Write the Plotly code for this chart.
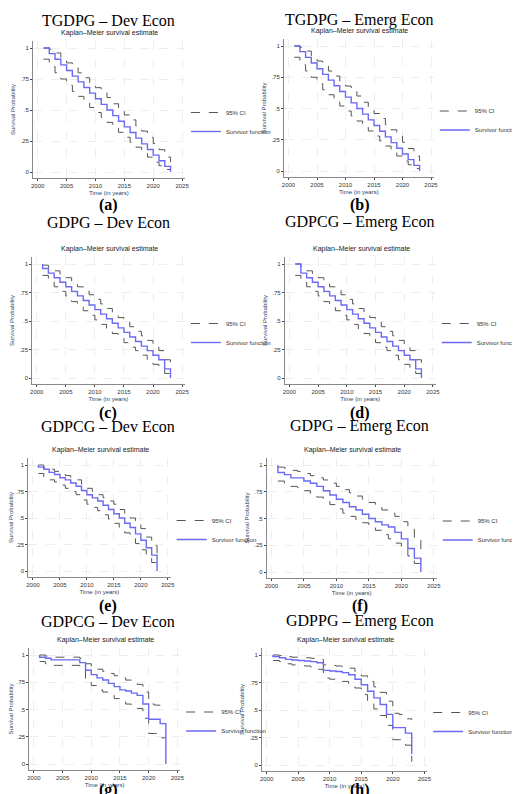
import plotly.graph_objects as go

YEARS = list(range(2001, 2024))
X_TICKS = [2000, 2005, 2010, 2015, 2020, 2025]
Y_TICKS = [0, 0.25, 0.5, 0.75, 1]
Y_TICK_LABELS = ["0", ".25", ".5", ".75", "1"]

TITLES = ["TGDPG – Dev Econ", "TGDPG – Emerg Econ", "GDPG – Dev Econ", "GDPCG – Emerg Econ",
          "GDPCG – Dev Econ", "GDPG – Emerg Econ", "GDPCG – Dev Econ", "GDPPG – Emerg Econ"]
LABELS = ["(a)", "(b)", "(c)", "(d)", "(e)", "(f)", "(g)", "(h)"]

S_a = [1, .955, .909, .864, .818, .773, .727, .682, .636, .591, .545, .5, .455, .409, .364, .318, .273, .227, .182, .136, .091, .045, 0]
HI_a = [1, .99, .96, .92, .88, .84, .80, .76, .72, .68, .64, .60, .55, .51, .46, .42, .37, .33, .28, .23, .18, .12, .08]
LO_a = [.91, .85, .80, .75, .70, .65, .61, .56, .52, .48, .44, .40, .36, .32, .28, .24, .20, .16, .12, .08, .05, .02, .02]

S_b = [1, .955, .909, .864, .818, .773, .727, .682, .636, .591, .545, .5, .455, .409, .364, .318, .273, .227, .182, .136, .091, .045, 0]
HI_b = [1, .99, .96, .92, .88, .84, .80, .76, .72, .68, .64, .60, .55, .51, .46, .42, .37, .33, .28, .23, .18, .12, .08]
LO_b = [.91, .85, .80, .75, .70, .65, .61, .56, .52, .48, .44, .40, .36, .32, .28, .24, .20, .16, .12, .08, .05, .02, .02]

S_c = [.96, .92, .88, .84, .80, .76, .72, .68, .64, .60, .56, .52, .48, .44, .40, .36, .32, .28, .24, .20, .16, .08, 0]
HI_c = [.99, .97, .94, .91, .88, .84, .80, .77, .73, .69, .65, .61, .57, .53, .49, .45, .41, .37, .33, .28, .24, .16, .10]
LO_c = [.90, .85, .80, .76, .72, .67, .63, .59, .55, .51, .47, .43, .39, .35, .31, .27, .24, .20, .16, .12, .09, .04, .04]

S_d = [1, .92, .88, .84, .80, .76, .72, .68, .64, .60, .56, .52, .48, .44, .40, .36, .32, .28, .24, .20, .16, .08, 0]
HI_d = [1, .97, .94, .91, .88, .84, .80, .77, .73, .69, .65, .61, .57, .53, .49, .45, .41, .37, .33, .28, .24, .16, .10]
LO_d = [.90, .85, .80, .76, .72, .67, .63, .59, .55, .51, .47, .43, .39, .35, .31, .27, .24, .20, .16, .12, .09, .04, .04]

S_e = [.98, .96, .93, .91, .88, .86, .83, .80, .76, .72, .69, .66, .62, .58, .54, .50, .45, .41, .35, .29, .22, .15, 0]
HI_e = [1, .98, .96, .94, .92, .90, .88, .86, .82, .78, .75, .72, .69, .66, .63, .58, .54, .50, .45, .40, .32, .24, .16]
LO_e = [.92, .89, .86, .84, .81, .78, .75, .72, .67, .63, .60, .57, .53, .49, .45, .41, .36, .32, .26, .20, .14, .08, .08]

S_f = [.93, .91, .88, .88, .85, .83, .80, .76, .72, .68, .65, .61, .58, .54, .50, .47, .44, .42, .37, .31, .22, .13, 0]
HI_f = [.98, .97, .95, .94, .92, .90, .88, .86, .83, .80, .77, .74, .71, .68, .65, .61, .58, .55, .52, .47, .40, .30, .19]
LO_f = [.85, .83, .80, .79, .76, .73, .70, .67, .63, .59, .55, .52, .49, .46, .43, .39, .35, .31, .27, .21, .15, .08, .08]

S_g = [.98, .97, .955, .955, .955, .955, .955, .93, .86, .82, .79, .77, .74, .71, .68, .67, .65, .63, .55, .41, .41, .37, 0]
HI_g = [1, .99, .98, .98, .98, .98, .98, .97, .92, .89, .87, .85, .83, .81, .79, .77, .75, .73, .66, .55, .54, .52, .51]
LO_g = [.94, .92, .905, .905, .905, .905, .905, .86, .76, .72, .68, .66, .63, .60, .57, .55, .53, .51, .42, .28, .28, .24, .24]

S_h = [.985, .975, .96, .955, .95, .945, .94, .93, .86, .855, .85, .84, .82, .78, .73, .67, .61, .55, .46, .34, .34, .29, .10]
HI_h = [1, .995, .985, .98, .98, .975, .97, .96, .91, .905, .90, .895, .88, .85, .81, .76, .71, .66, .58, .47, .46, .42, .41]
LO_h = [.95, .94, .92, .91, .905, .90, .89, .87, .79, .78, .77, .76, .74, .70, .64, .58, .51, .45, .36, .23, .23, .18, .03]

SERIES = [(S_a, HI_a, LO_a), (S_b, HI_b, LO_b), (S_c, HI_c, LO_c), (S_d, HI_d, LO_d),
          (S_e, HI_e, LO_e), (S_f, HI_f, LO_f), (S_g, HI_g, LO_g), (S_h, HI_h, LO_h)]

W, H = 520, 794
# pixel positions: x of 2000, x of 2025, y of 1, y of 0, title y, label y, title center x
PANELS = [
    (26, 178, 40, 164, 12, 197, 100),
    (290, 440, 38, 163, 12, 197, 365),
    (25, 178, 256, 370, 214, 405, 100),
    (291, 442, 256, 370, 214, 405, 365),
    (21, 163, 457, 563, 418, 598, 100),
    (272, 443, 457, 564, 418, 598, 365),
    (22, 173, 647, 756, 613, 782, 100),
    (267, 433, 647, 757, 613, 782, 365),
]

fig = go.Figure()
ann = []
for i, ((s, hi, lo), (x0, x1, y1, y0, ty, ly, cx)) in enumerate(zip(SERIES, PANELS)):
    n = i + 1
    xa = "x" if n == 1 else f"x{n}"
    ya = "y" if n == 1 else f"y{n}"
    lg = "legend" if n == 1 else f"legend{n}"
    pxy = (x1 - x0) / 25.0
    pyu = (y0 - y1)
    dl, dr = x0 - 5, x1 + 3
    dt, db = y1 - 7, y0 + 6
    xr = [2000 - 5 / pxy, 2025 + 3 / pxy]
    yr = [-6 / pyu, 1 + 7 / pyu]
    fig.add_trace(go.Scatter(x=YEARS, y=hi, mode="lines", line=dict(color="#555", width=1, dash="dash", shape="hv"),
                             name="95% CI", xaxis=xa, yaxis=ya, legend=lg))
    fig.add_trace(go.Scatter(x=YEARS, y=lo, mode="lines", line=dict(color="#555", width=1, dash="dash", shape="hv"),
                             name="95% CI", showlegend=False, xaxis=xa, yaxis=ya, legend=lg))
    fig.add_trace(go.Scatter(x=[2001] + YEARS, y=[1] + s, mode="lines", line=dict(color="#6a6af5", width=1.4, shape="hv"),
                             name="Survivor function", xaxis=xa, yaxis=ya, legend=lg))
    ax = dict(domain=[dl / W, dr / W], range=xr, tickvals=X_TICKS, ticks="outside", ticklen=2,
              tickfont=dict(size=6, family="Liberation Sans", color="#333"), showgrid=True,
              gridcolor="#eeeeee", griddash="dash", zeroline=False, showline=True, linecolor="#888", linewidth=0.6,
              anchor=ya, title=dict(text="Time (in years)", font=dict(size=6, family="Liberation Sans"), standoff=2))
    ay = dict(domain=[1 - db / H, 1 - dt / H], range=yr, tickvals=Y_TICKS, ticktext=Y_TICK_LABELS, ticks="outside",
              ticklen=2, tickfont=dict(size=6, family="Liberation Sans", color="#333"), showgrid=True,
              gridcolor="#eeeeee", griddash="dash", zeroline=False, showline=True, linecolor="#888", linewidth=0.6,
              anchor=xa, title=dict(text="Survival Probability", font=dict(size=6, family="Liberation Sans"), standoff=4))
    fig.layout[("xaxis" if n == 1 else f"xaxis{n}")] = ax
    fig.layout[("yaxis" if n == 1 else f"yaxis{n}")] = ay
    fig.layout[lg] = dict(x=(dr + 1) / W, y=1 - ((y1 + y0) / 2 - 12) / H, xanchor="left", yanchor="top",
                          font=dict(size=6, family="Liberation Sans", color="#333"), bgcolor="rgba(0,0,0,0)",
                          tracegroupgap=0, itemwidth=30)
    ann.append(dict(text=TITLES[i], x=cx / W, y=1 - ty / H, xref="paper", yref="paper", showarrow=False,
                    xanchor="center", yanchor="middle",
                    font=dict(size=16, family="Liberation Serif", color="black")))
    ann.append(dict(text="<b>" + LABELS[i] + "</b>", x=cx / W, y=1 - ly / H, xref="paper", yref="paper",
                    showarrow=False, xanchor="center", yanchor="middle",
                    font=dict(size=16, family="Liberation Serif", color="black")))
    ann.append(dict(text="Kaplan–Meier survival estimate", x=(x0 + x1) / 2 / W, y=1 - (dt - 8) / H, xref="paper",
                    yref="paper", showarrow=False, xanchor="center", yanchor="middle",
                    font=dict(size=7, family="Liberation Sans", color="#222")))

fig.update_layout(width=W, height=H, margin=dict(l=0, r=0, t=0, b=0), plot_bgcolor="white",
                  paper_bgcolor="white", annotations=ann)
fig.write_html("out.html")
